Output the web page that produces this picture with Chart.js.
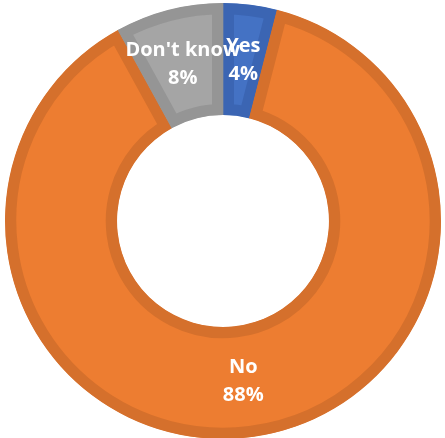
<!DOCTYPE html>
<html>
<head>
<meta charset="utf-8">
<script src="https://cdn.jsdelivr.net/npm/chart.js@4/dist/chart.umd.min.js"></script>
<style>
  html, body { margin: 0; padding: 0; background: #ffffff; overflow: hidden; }
  #wrap { width: 445px; height: 440px; position: relative; }
</style>
</head>
<body>
<div id="wrap"><canvas id="answers"></canvas></div>
<script>
const categories = ["Yes", "No", "Don't know"];
const shares = [4, 88, 8];
const fillColors = ["#4472C4", "#ED7D31", "#A5A5A5"];
const edgeColors = ["#3B65B3", "#D5702C", "#959595"];

// writes "name" and "value%" in the middle of each ring segment
const sliceLabels = {
  id: "sliceLabels",
  afterDatasetsDraw(chart) {
    const ctx = chart.ctx;
    const arcs = chart.getDatasetMeta(0).data;
    ctx.save();
    ctx.fillStyle = "#ffffff";
    ctx.font = "bold 20px 'Open Sans'";
    ctx.textAlign = "center";
    ctx.textBaseline = "middle";
    arcs.forEach((arc, i) => {
      const { x, y } = arc.getCenterPoint();
      ctx.fillText(categories[i], x, y - 14);
      ctx.fillText(shares[i] + "%", x, y + 14);
    });
    ctx.restore();
  },
};

new Chart(document.getElementById("answers"), {
  type: "doughnut",
  data: {
    labels: categories,
    datasets: [
      {
        data: shares,
        backgroundColor: fillColors,
        borderColor: edgeColors,
        borderWidth: 11,
        borderAlign: "inner",
      },
    ],
  },
  options: {
    responsive: true,
    maintainAspectRatio: false,
    animation: false,
    cutout: "48.6%",
    layout: { padding: { left: 5, right: 4, top: 3, bottom: 1 } },
    plugins: {
      legend: { display: false },
      tooltip: { enabled: false },
    },
  },
  plugins: [sliceLabels],
});
</script>
</body>
</html>
